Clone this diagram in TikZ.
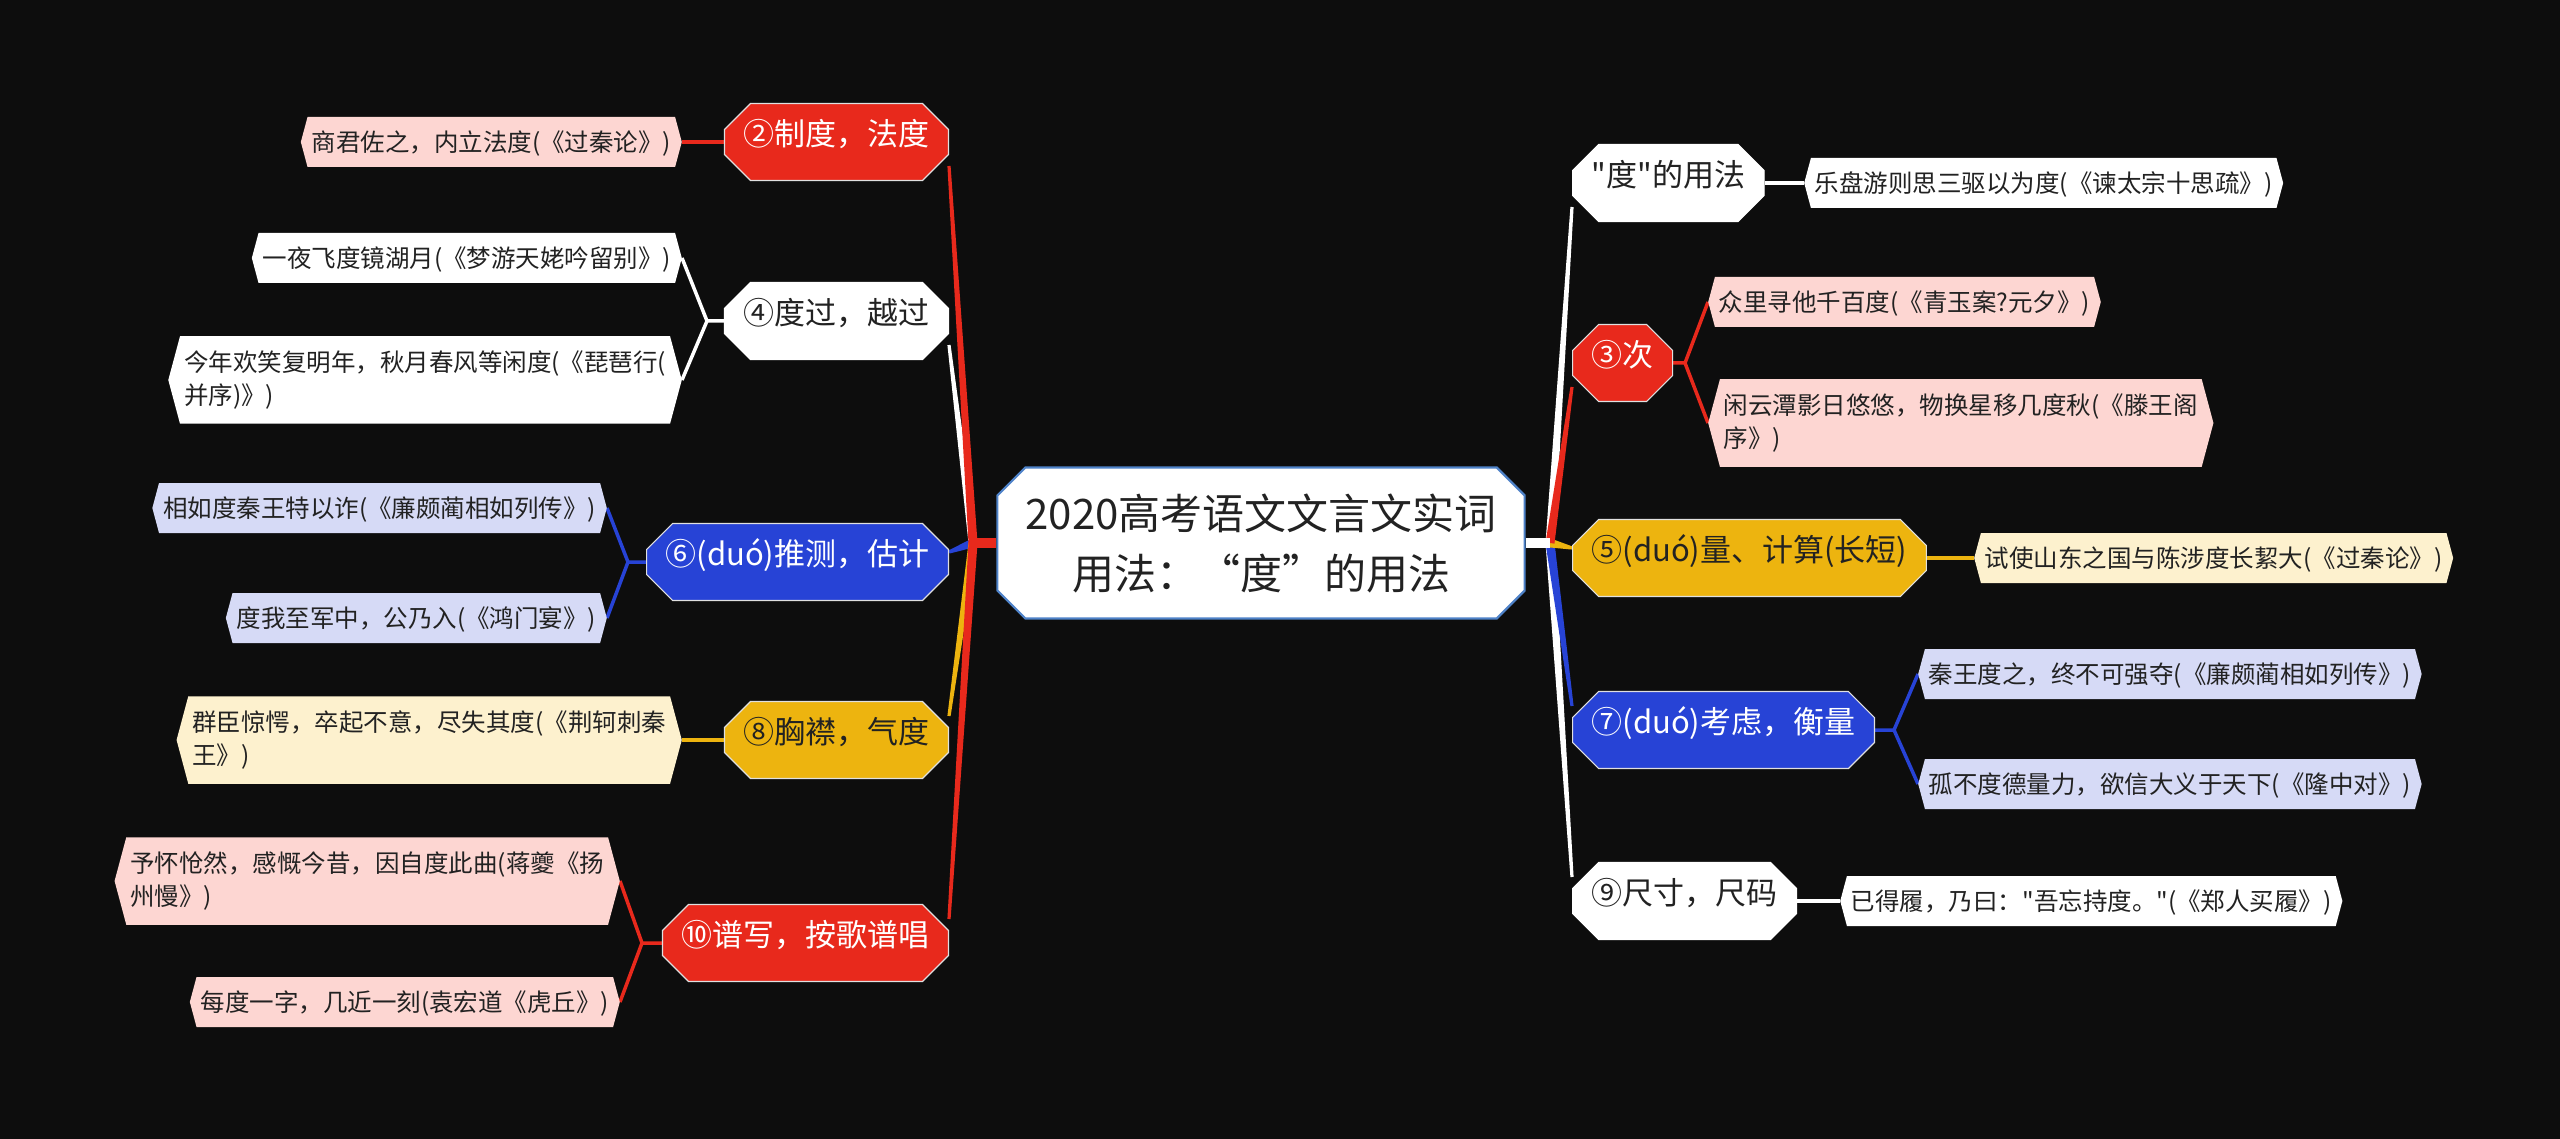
\documentclass[tikz,border=0pt]{standalone}
\usepackage{fontspec}
\setmainfont{Noto Sans CJK SC}[Ligatures=TeXOff]
\usetikzlibrary{shapes.misc,shapes.symbols,calc}
\definecolor{bg}{HTML}{0D0D0D}
\definecolor{cred}{HTML}{E8291C}
\definecolor{cblue}{HTML}{2743D6}
\definecolor{cyel}{HTML}{EDB40F}
\definecolor{lpink}{HTML}{FDD6D2}
\definecolor{lblue}{HTML}{D6DAF6}
\definecolor{lyel}{HTML}{FDF1CE}
\definecolor{cborder}{HTML}{4E82C8}
\definecolor{ltext}{HTML}{222222}
\pgfdeclarelayer{bgfill}
\pgfdeclarelayer{links}
\pgfsetlayers{bgfill,links,main}
\newcommand{\ltop}{\rule{0pt}{31.5pt}}
\newcommand{\lbot}{\rule[-15pt]{0pt}{15pt}}
\newcommand{\taperline}[3]{%
  \fill[#1] ($(#2)!4.5pt!90:(#3)$) -- ($(#3)!1.6pt!-90:(#2)$) -- ($(#3)!1.6pt!90:(#2)$) -- ($(#2)!4.5pt!-90:(#3)$) -- cycle;}
\tikzset{
  central/.style={chamfered rectangle, chamfered rectangle xsep=14pt, chamfered rectangle ysep=14pt,
    fill=white, draw=cborder, line width=2.2pt, align=center, text=ltext,
    font=\fontsize{42}{60}\selectfont, inner xsep=14pt, inner ysep=12pt},
  topic/.style={chamfered rectangle, chamfered rectangle xsep=13pt, chamfered rectangle ysep=13pt,
    inner xsep=6pt, inner ysep=20pt, font=\fontsize{31}{36}\selectfont,
    text height=0.88em, text depth=0.22em, draw=white!88!black, line width=1.2pt},
  redtopic/.style={topic, fill=cred, text=white},
  bluetopic/.style={topic, fill=cblue, text=white},
  yeltopic/.style={topic, fill=cyel, text=ltext},
  whitetopic/.style={topic, fill=white, text=ltext, draw=white},
  leaf/.style={signal, signal to=west and east, signal pointer angle=150,
    inner sep=4pt, font=\fontsize{24.5}{33}\selectfont, text=ltext},
  leafone/.style={leaf, execute at begin node={\rule[-11.7pt]{0pt}{42pt}}},
  leaftwo/.style={leaf, align=left},
  stub/.style={line width=10pt},
  twig/.style={line width=3.5pt},
}
\begin{document}
\begin{tikzpicture}[x=1pt,y=-1pt]
\useasboundingbox (0,0) rectangle (2560,1139);
\begin{pgfonlayer}{bgfill}
\fill[bg] (0,0) rectangle (2560,1139);
\end{pgfonlayer}

% central
\node[central] (C) at (1261,543) {2020高考语文文言文实词\\用法：{\addfontfeature{CharacterWidth=Full}“}度{\addfontfeature{CharacterWidth=Full}”}的用法};
\coordinate (JR) at (1550,543);
\coordinate (JL) at (973,543);

% right topics
\node[whitetopic, anchor=west] (R1) at (1572,183) {"度"的用法};
\node[redtopic, anchor=west] (R2) at (1572,363) {③次};
\node[yeltopic, anchor=west] (R3) at (1572,558) {⑤(duó)量、计算(长短)};
\node[bluetopic, anchor=west] (R4) at (1572,730) {⑦(duó)考虑，衡量};
\node[whitetopic, anchor=west] (R5) at (1572,901) {⑨尺寸，尺码};

% right leaves
\node[leafone, fill=white, anchor=west] (R1a) at (1804,183) {乐盘游则思三驱以为度(《谏太宗十思疏》)};
\node[leafone, fill=lpink, anchor=west] (R2a) at (1708,302) {众里寻他千百度(《青玉案?元夕》)};
\node[leaftwo, fill=lpink, anchor=west] (R2b) at (1708,423) {\ltop 闲云潭影日悠悠，物换星移几度秋(《滕王阁\\\lbot 序》)};
\node[leafone, fill=lyel, anchor=west] (R3a) at (1974,558) {试使山东之国与陈涉度长絜大(《过秦论》)};
\node[leafone, fill=lblue, anchor=west] (R4a) at (1918,674) {秦王度之，终不可强夺(《廉颇蔺相如列传》)};
\node[leafone, fill=lblue, anchor=west] (R4b) at (1918,784) {孤不度德量力，欲信大义于天下(《隆中对》)};
\node[leafone, fill=white, anchor=west] (R5a) at (1840,901) {已得履，乃曰："吾忘持度。"(《郑人买履》)};

% left topics
\node[redtopic, anchor=east] (L1) at (949,142) {②制度，法度};
\node[whitetopic, anchor=east] (L2) at (949,321) {④度过，越过};
\node[bluetopic, anchor=east] (L3) at (949,562) {⑥(duó)推测，估计};
\node[yeltopic, anchor=east] (L4) at (949,740) {⑧胸襟，气度};
\node[redtopic, anchor=east] (L5) at (949,943) {⑩谱写，按歌谱唱};

% left leaves
\node[leafone, fill=lpink, anchor=east] (L1a) at (682,142) {商君佐之，内立法度(《过秦论》)};
\node[leafone, fill=white, anchor=east] (L2a) at (682,258) {一夜飞度镜湖月(《梦游天姥吟留别》)};
\node[leaftwo, fill=white, anchor=east] (L2b) at (682,380) {\ltop 今年欢笑复明年，秋月春风等闲度(《琵琶行(\\\lbot 并序)》)};
\node[leafone, fill=lblue, anchor=east] (L3a) at (607,508) {相如度秦王特以诈(《廉颇蔺相如列传》)};
\node[leafone, fill=lblue, anchor=east] (L3b) at (607,618) {度我至军中，公乃入(《鸿门宴》)};
\node[leaftwo, fill=lyel, anchor=east] (L4a) at (682,740) {\ltop 群臣惊愕，卒起不意，尽失其度(《荆轲刺秦\\\lbot 王》)};
\node[leaftwo, fill=lpink, anchor=east] (L5a) at (620,881) {\ltop 予怀怆然，感慨今昔，因自度此曲(蒋夔《扬\\\lbot 州慢》)};
\node[leafone, fill=lpink, anchor=east] (L5b) at (620,1002) {每度一字，几近一刻(袁宏道《虎丘》)};

% forks
\coordinate (FR2) at (1685,363);
\coordinate (FR4) at (1894,730);
\coordinate (FL2) at (707,321);
\coordinate (FL3) at (628,562);
\coordinate (FL5) at (642,943);

% trunk end points
\coordinate (eR1) at ([yshift=-24pt]R1.west);
\coordinate (eR2) at ([yshift=-24pt]R2.west);
\coordinate (eR3) at ([yshift=10pt]R3.west);
\coordinate (eR4) at ([yshift=24pt]R4.west);
\coordinate (eR5) at ([yshift=24pt]R5.west);
\coordinate (eL1) at ([yshift=-24pt]L1.east);
\coordinate (eL2) at ([yshift=-24pt]L2.east);
\coordinate (eL3) at ([yshift=10pt]L3.east);
\coordinate (eL4) at ([yshift=24pt]L4.east);
\coordinate (eL5) at ([yshift=24pt]L5.east);

\begin{pgfonlayer}{links}
% trunks right
\taperline{white}{JR}{eR1}
\taperline{white}{JR}{eR5}
\taperline{cblue}{JR}{eR4}
\taperline{cyel}{JR}{eR3}
\taperline{cred}{JR}{eR2}
\draw[stub, white] (C.east) -- (JR);
% trunks left
\taperline{white}{JL}{eL2}
\taperline{cblue}{JL}{eL3}
\taperline{cyel}{JL}{eL4}
\taperline{cred}{JL}{eL1}
\taperline{cred}{JL}{eL5}
\draw[stub, cred] (C.west) -- (JL);
% twigs right
\draw[twig, white] (R1.east) -- (R1a.west);
\draw[twig, cred] (R2.east) -- (FR2) -- (R2a.west);
\draw[twig, cred] (FR2) -- (R2b.west);
\draw[twig, cyel] (R3.east) -- (R3a.west);
\draw[twig, cblue] (R4.east) -- (FR4) -- (R4a.west);
\draw[twig, cblue] (FR4) -- (R4b.west);
\draw[twig, white] (R5.east) -- (R5a.west);
% twigs left
\draw[twig, cred] (L1.west) -- (L1a.east);
\draw[twig, white] (L2.west) -- (FL2) -- (L2a.east);
\draw[twig, white] (FL2) -- (L2b.east);
\draw[twig, cblue] (L3.west) -- (FL3) -- (L3a.east);
\draw[twig, cblue] (FL3) -- (L3b.east);
\draw[twig, cyel] (L4.west) -- (L4a.east);
\draw[twig, cred] (L5.west) -- (FL5) -- (L5a.east);
\draw[twig, cred] (FL5) -- (L5b.east);
\end{pgfonlayer}
\end{tikzpicture}
\end{document}
